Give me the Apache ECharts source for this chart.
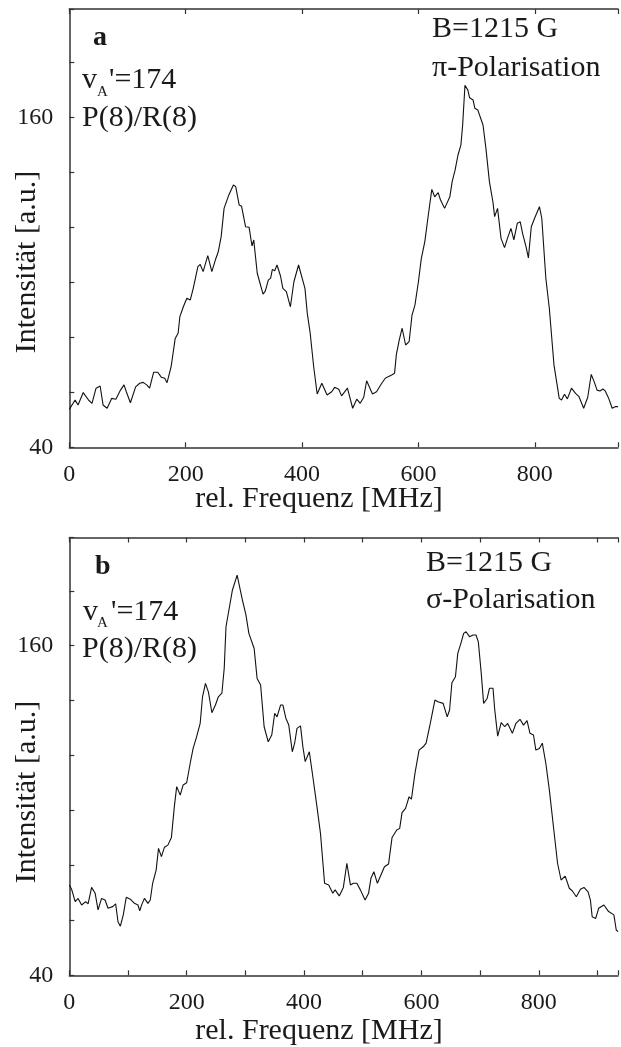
<!DOCTYPE html>
<html>
<head>
<meta charset="utf-8">
<script src="https://cdn.jsdelivr.net/npm/echarts@6/dist/echarts.min.js"></script>
<style>
html,body{margin:0;padding:0;background:#fff;}
#chart{width:621px;height:1047px;}
</style>
</head>
<body>
<div id="chart"></div>
<script>
// ---- Panel a (π-Polarisation) ----
const freqA = [0,10,15,24,33,39,46,53,58,65,73,80,88,94,98,105,114,121,127,133,138,145,152,158,164,168,175,182,187,190,196,202,208,213,221,225,230,238,245,251,256,261,266,274,282,286,292,296,303,309,314,317,323,333,337,342,346,349,353,357,363,367,373,380,386,394,397,405,409,414,420,426,434,443,451,456,463,468,478,487,494,500,506,511,521,528,537,543,548,554,559,562,567,572,578,584,589,594,600,605,611,617,623,628,634,638,645,654,658,663,668,673,676,680,685,688,694,697,702,711,716,722,728,731,736,742,748,753,759,764,770,775,779,785,789,794,800,808,812,819,825,833,842,846,851,856,863,870,876,884,891,897,902,907,912,917,921,927,933,939,943];
const intA = [53.8,57.2,55.4,59.9,57.2,56,61.5,62.3,55.4,54.2,57.8,57.5,60.8,62.7,60.2,56.2,62,63.3,63.6,62.7,61.5,67.3,67.3,65.5,65.1,63.5,69.3,79.6,81.5,87.5,91.1,94.2,93.6,97.8,105.7,106.5,103.9,109.7,103.9,108.1,111.1,116.6,126.9,131.7,135.4,134.8,128.1,127.7,120.2,120,113.2,115.4,103.3,95.7,96.9,100.8,101.5,104.7,104.2,106.3,102.3,97.8,96.6,91.1,100.2,106.3,105.7,97.8,88.7,81.5,69.3,59.4,63.3,59,60.2,61.8,61.1,58.7,61.5,54.2,57.5,56,58.2,64.2,59.4,60.2,63.3,65.1,65.7,66.3,66.9,73.6,79,83.3,77.2,78.4,88.1,91.7,100.2,108.7,114.8,124.5,133.8,131.1,132.6,129.9,126.9,131.1,136.6,140.8,146.3,149.9,157.2,171.7,169.9,167.1,166.3,163.3,162.7,157.2,148.7,136.6,129.3,123.9,126.9,116,112.6,116,119.6,115.4,121.5,122,117.8,112.9,108.9,120.2,123.5,127.5,123.3,101.5,90.5,69.9,57.8,57.2,59.3,57.6,61.5,59.6,58.4,54.2,58.2,66.5,63.9,60.8,60.5,61.2,60.5,57.8,54.2,54.8,54.8];

// ---- Panel b (σ-Polarisation) ----
const freqB = [0,4,10,15,21,28,32,38,44,49,55,61,66,74,79,83,87,92,97,104,111,117,120,124,128,134,138,142,148,152,157,162,168,174,179,183,189,194,200,206,211,217,223,227,232,237,243,249,254,260,264,267,272,278,286,295,301,306,315,320,326,332,339,345,350,354,360,364,369,374,380,384,388,394,398,402,409,415,422,428,435,442,449,453,460,467,473,479,484,490,496,504,510,514,519,525,531,537,544,550,558,563,567,573,579,583,589,596,603,608,614,618,623,628,637,644,648,652,658,662,668,672,676,682,688,693,697,702,706,712,716,722,725,730,736,742,747,755,761,768,774,780,785,791,795,801,806,812,818,825,832,838,845,852,857,864,871,877,884,888,891,897,902,911,919,928,932,935];
const intB = [72.9,71.3,66.8,68,65.6,66.8,66,72,69.9,63.8,68,67.4,64.4,65,66,59.5,57.9,62,68.4,67.7,66.2,65.6,63.5,66,68,66.2,67.4,73.5,78.3,86.2,83.2,86.6,87.4,90.2,101.4,108.7,105.6,109.3,110.1,117.2,122.6,126.9,131.7,141.4,146.3,143.2,135.6,138.4,141.4,142.7,151.8,166.9,173,180.3,185.7,176.6,171.2,164.5,159,148.1,145.7,130.5,125,127.5,135.4,134.1,138.4,138.4,133.6,131.1,121.4,124.5,129.9,130.8,123.2,117.8,121.4,112.3,101.4,91.7,73.5,72.9,69.9,71.1,68.9,72,80.8,72.9,73.5,73.5,71.1,67.4,69.9,75.3,77.7,73.5,76.5,79.5,80.5,90.2,92.9,93.5,99.2,100.8,105,104.1,113.5,122,123.2,124.5,130.5,134.8,140.2,139.6,139,134.1,136.6,146.5,148.7,157.2,161.4,164.5,165.1,163.3,163.9,163.9,161.4,149.9,139,140.8,144.5,144.5,136.6,127.1,132,130.5,131.7,128.1,131.7,133.2,131.1,132.7,128.1,127.5,122,122.6,124.5,117.2,107.5,94.1,80.8,74.7,76.1,71.7,70.8,68.6,71.3,72,70.4,67.4,61.3,60.7,64.4,65.6,63.2,62,56.5,55.9];

// ---- tick labels ----
const xTickLabels = [0, 200, 400, 600, 800];
const yTickLabels = [40, 160];

const zip = (xs, ys) => xs.map((x, i) => [x, ys[i]]);

const FONT = "'Liberation Serif', 'Times New Roman', serif";
const INK = '#1a1a1a';
const AXIS = '#333';

function xAxisCfg(grid, max, interval, pos, showLabels) {
  return {
    type: 'value', gridIndex: grid, min: 0, max: max, interval: interval, position: pos,
    axisLine: { show: true, onZero: false, lineStyle: { color: AXIS, width: 1.5 } },
    axisTick: { show: true, inside: true, length: 5, lineStyle: { color: AXIS, width: 1.2 } },
    axisLabel: {
      show: showLabels, margin: 15, fontFamily: FONT, fontSize: 24, color: INK,
      formatter: v => xTickLabels.includes(v) ? String(v) : ''
    },
    splitLine: { show: false }
  };
}
function yAxisCfg(grid) {
  return {
    type: 'value', gridIndex: grid, min: 40, max: 199.4, interval: 20,
    axisLine: { show: true, onZero: false, lineStyle: { color: AXIS, width: 1.5 } },
    axisTick: { show: true, inside: true, length: 5, lineStyle: { color: AXIS, width: 1.2 } },
    axisLabel: {
      show: true, margin: 16, fontFamily: FONT, fontSize: 24, color: INK,
      formatter: v => yTickLabels.includes(v) ? String(v) : ''
    },
    splitLine: { show: false }
  };
}

function txt(x, y, s, size, opts) {
  return {
    type: 'text', x: x, y: y, silent: true,
    style: Object.assign({
      text: s, font: (opts && opts.bold ? 'bold ' : '') + size + 'px ' + FONT,
      fill: INK, align: 'left', verticalAlign: 'middle'
    }, opts && opts.style ? opts.style : {})
  };
}

const chart = echarts.init(document.getElementById('chart'), null, { renderer: 'canvas' });
chart.setOption({
  backgroundColor: '#fff',
  animation: false,
  grid: [
    { left: 69.3, top: 9, width: 551.7, height: 438.3 },
    { left: 69.3, top: 537.5, width: 551.7, height: 437.8 }
  ],
  xAxis: [
    xAxisCfg(0, 943, 200, 'bottom', true),
    xAxisCfg(0, 943, 200, 'top', false),
    xAxisCfg(1, 935, 100, 'bottom', true),
    xAxisCfg(1, 935, 100, 'top', false)
  ],
  yAxis: [yAxisCfg(0), yAxisCfg(1)],
  series: [
    { type: 'line', xAxisIndex: 0, yAxisIndex: 0, data: zip(freqA, intA), showSymbol: false,
      lineStyle: { color: '#111', width: 1.1 } },
    { type: 'line', xAxisIndex: 2, yAxisIndex: 1, data: zip(freqB, intB), showSymbol: false,
      lineStyle: { color: '#111', width: 1.1 } }
  ],
  graphic: [
    // panel a
    txt(93, 38, 'a', 28, { bold: true }),
    txt(82, 80, 'v', 30),
    txt(97, 92, 'A', 15),
    txt(109, 80, "'=174", 30),
    txt(82, 118, 'P(8)/R(8)', 30),
    txt(432, 29, 'B=1215 G', 30),
    txt(432, 68, 'π-Polarisation', 30),
    // panel b
    txt(95, 567, 'b', 28, { bold: true }),
    txt(83, 612, 'v', 30),
    txt(97, 623, 'A', 15),
    txt(111, 612, "'=174", 30),
    txt(82, 649, 'P(8)/R(8)', 30),
    txt(426, 563, 'B=1215 G', 30),
    txt(426, 600, 'σ-Polarisation', 30),
    // axis titles
    txt(319, 499, 'rel. Frequenz [MHz]', 30, { style: { align: 'center' } }),
    txt(319, 1031, 'rel. Frequenz [MHz]', 30, { style: { align: 'center' } }),
    Object.assign(txt(27, 262, 'Intensität [a.u.]', 30, { style: { align: 'center' } }), { rotation: Math.PI / 2 }),
    Object.assign(txt(27, 792, 'Intensität [a.u.]', 30, { style: { align: 'center' } }), { rotation: Math.PI / 2 })
  ]
});
</script>
</body>
</html>
